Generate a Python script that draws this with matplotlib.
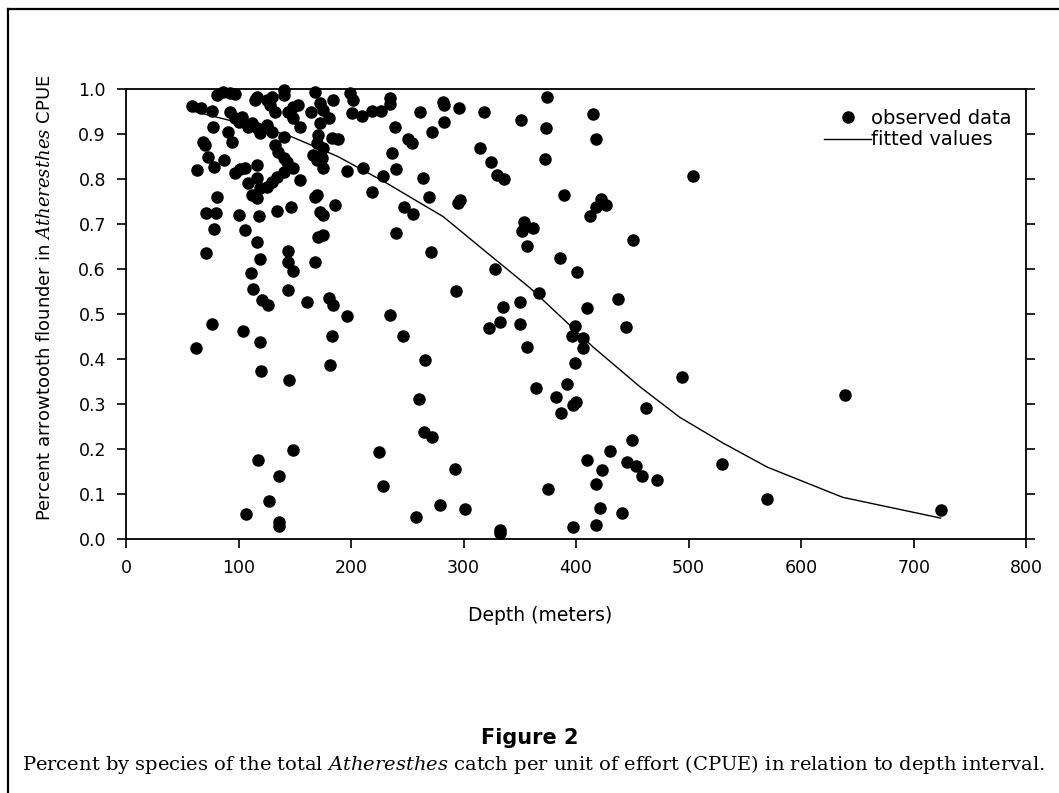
import matplotlib
matplotlib.use("Agg")
import matplotlib.pyplot as plt
from matplotlib.lines import Line2D

plt.rcParams['font.family'] = 'DejaVu Sans'
plt.rcParams['mathtext.fontset'] = 'dejavuserif'

# observed data: depth (m) and proportion arrowtooth flounder
depth = [
    59, 67, 76, 81, 86, 92, 97, 92, 97, 100, 103, 77, 91, 94, 68, 70, 73, 78, 63, 87,
    97, 101, 106, 116, 108, 116, 112, 116, 119, 125, 130, 134, 140, 115, 116, 125, 130, 140, 140, 128,
    132, 108, 112, 116, 119, 125, 130, 140, 132, 135, 140, 143, 148, 144, 148, 148, 153, 155, 168, 172,
    175, 184, 164, 172, 180, 171, 183, 188, 170, 175, 166, 170, 174, 175, 155, 168, 170, 172, 175, 186,
    147, 134, 118, 100, 81, 71, 80, 78, 106, 116, 171, 175, 71, 119, 144, 144, 148, 168, 111, 113,
    144, 121, 126, 161, 180, 184,
    76, 62, 104, 119, 120, 145, 183, 181, 148, 117, 136, 127, 107, 136, 136,
    199, 202, 201, 210, 219, 227, 235, 235, 239, 236, 240, 251, 254, 261, 272, 282, 283, 283, 296, 318,
    351, 374, 373, 372, 196, 211, 228, 219, 264, 269, 247, 255, 297, 295, 315, 324, 330, 336, 240, 271,
    354, 362, 352, 356, 328, 293, 367, 335, 350,
    196, 235, 246, 266, 260, 265, 272, 225, 228, 258, 279, 301, 292, 332, 332, 323, 332, 350, 356, 364,
    375,
    415, 418, 504, 389, 422, 418, 427, 412, 451, 386, 401, 437, 410, 399, 444,
    396, 406, 406, 399, 494, 392, 382, 397, 400, 387, 462, 450, 430, 410, 423, 445, 453, 459, 472, 530,
    418, 421, 441, 397, 418,
    639, 570, 724,
]
percent = [
    0.962, 0.957, 0.951, 0.987, 0.993, 0.991, 0.989, 0.949, 0.936, 0.927, 0.938, 0.916, 0.904, 0.882, 0.882, 0.876, 0.849, 0.827, 0.820, 0.842,
    0.813, 0.822, 0.824, 0.831, 0.791, 0.802, 0.764, 0.758, 0.780, 0.782, 0.793, 0.804, 0.816, 0.976, 0.982, 0.976, 0.982, 0.998, 0.987, 0.964,
    0.949, 0.916, 0.924, 0.913, 0.902, 0.920, 0.904, 0.893, 0.876, 0.860, 0.847, 0.838, 0.824, 0.949, 0.936, 0.960, 0.964, 0.916, 0.993, 0.969,
    0.953, 0.976, 0.949, 0.924, 0.936, 0.898, 0.891, 0.889, 0.880, 0.869, 0.853, 0.842, 0.847, 0.824, 0.798, 0.760, 0.764, 0.727, 0.720, 0.742,
    0.738, 0.729, 0.718, 0.720, 0.760, 0.724, 0.724, 0.689, 0.687, 0.660, 0.671, 0.675, 0.636, 0.622, 0.640, 0.616, 0.596, 0.616, 0.591, 0.556,
    0.553, 0.531, 0.520, 0.527, 0.535, 0.520,
    0.478, 0.424, 0.462, 0.438, 0.373, 0.353, 0.451, 0.387, 0.198, 0.176, 0.140, 0.084, 0.056, 0.038, 0.029,
    0.990, 0.975, 0.946, 0.940, 0.951, 0.951, 0.980, 0.967, 0.916, 0.858, 0.822, 0.889, 0.880, 0.949, 0.904, 0.971, 0.964, 0.927, 0.958, 0.949,
    0.931, 0.982, 0.913, 0.845, 0.818, 0.824, 0.807, 0.771, 0.802, 0.760, 0.738, 0.722, 0.753, 0.747, 0.869, 0.838, 0.809, 0.800, 0.680, 0.638,
    0.704, 0.691, 0.684, 0.651, 0.600, 0.551, 0.547, 0.516, 0.527,
    0.496, 0.498, 0.451, 0.398, 0.311, 0.238, 0.227, 0.193, 0.118, 0.049, 0.076, 0.068, 0.156, 0.020, 0.013, 0.469, 0.482, 0.478, 0.427, 0.336,
    0.111,
    0.944, 0.889, 0.807, 0.764, 0.756, 0.738, 0.742, 0.718, 0.664, 0.624, 0.593, 0.533, 0.513, 0.473, 0.471,
    0.451, 0.446, 0.424, 0.392, 0.360, 0.344, 0.316, 0.298, 0.304, 0.281, 0.291, 0.220, 0.196, 0.176, 0.153, 0.171, 0.162, 0.140, 0.131, 0.167,
    0.122, 0.069, 0.058, 0.027, 0.031,
    0.320, 0.089, 0.064,
]

# fitted values curve
fit_depth = [60, 100, 143, 188, 230, 282, 317, 359, 380, 415, 457, 492, 531, 570, 637, 724]
fit_value = [0.950, 0.925, 0.898, 0.850, 0.793, 0.716, 0.644, 0.558, 0.509, 0.427, 0.338, 0.271, 0.213, 0.160, 0.093, 0.047]

fig = plt.figure(figsize=(10.59, 7.93), dpi=100)
ax = fig.add_axes([0.119, 0.320, 0.850, 0.568])

ax.plot(depth, percent, 'o', color='black', markersize=8, clip_on=False, zorder=3, label='observed data')
ax.plot(fit_depth, fit_value, '-', color='black', linewidth=1.0, label='fitted values')

ax.set_xlim(0, 800)
ax.set_ylim(0, 1.0)
ax.set_xticks(range(0, 801, 100))
ax.set_yticks([i / 10 for i in range(11)])
ax.set_yticklabels([f"{i / 10:.1f}" for i in range(11)])
ax.tick_params(axis='both', direction='out', length=6.5, width=1.2, labelsize=12.5, pad=8)
ax.tick_params(axis='y', right=True)
for s in ax.spines.values():
    s.set_linewidth(1.3)

ax.set_xlabel('Depth (meters)', fontsize=13.5)
ax.xaxis.set_label_coords(0.46, -0.148)
ax.set_ylabel(r'Percent arrowtooth flounder in $\mathit{Atheresthes}$ CPUE', fontsize=13)
ax.yaxis.set_label_coords(-0.08, 0.535)

ax.legend(loc='upper right', bbox_to_anchor=(1.003, 0.995), frameon=False, fontsize=14,
          numpoints=1, handlelength=2.4, handletextpad=0.0, labelspacing=0.15)

fig.text(0.5, 1 - 738 / 793, 'Figure 2', ha='center', va='center', fontsize=15, fontweight='bold')
fig.text(0.504, 1 - 765 / 793,
         r'Percent by species of the total $\mathit{Atheresthes}$ catch per unit of effort (CPUE) in relation to depth interval.',
         ha='center', va='center', fontsize=14, family='DejaVu Serif')

# page frame (top and left rules)
fig.add_artist(Line2D([8 / 1059, 1], [1 - 9 / 793, 1 - 9 / 793], color='black', linewidth=1.6))
fig.add_artist(Line2D([8 / 1059, 8 / 1059], [0, 1 - 9 / 793], color='black', linewidth=1.6))

fig.savefig('out.png', dpi=100)
